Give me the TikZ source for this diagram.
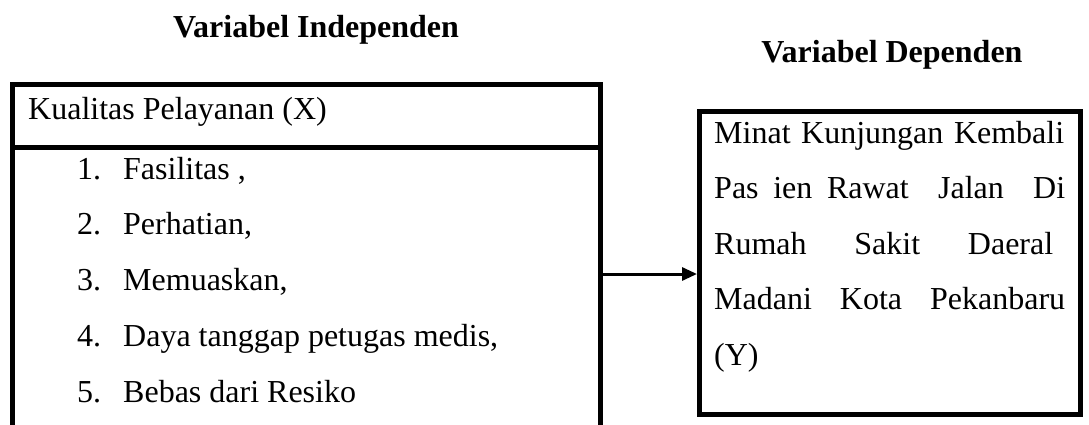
\documentclass[tikz,border=0pt]{standalone}
\usepackage{fontspec}
\setmainfont{Liberation Serif}
\usetikzlibrary{arrows.meta}
\tikzset{
  frame/.style = {line width = 5pt},
  title/.style = {font = \fontsize{32}{38}\selectfont\bfseries, anchor = base, inner sep = 0},
  body/.style = {font = \fontsize{32}{38}\selectfont, anchor = base west, inner sep = 0},
  arr/.style = {line width = 3pt, -{Triangle[length = 15pt, width = 13pt]}}
}
\begin{document}
\begin{tikzpicture}[x = 1pt, y = -1pt]
\useasboundingbox (0,0) rectangle (1089,425);
\pgfmathsetmacro\itemgap{55.8};
\pgfmathsetmacro\linegap{55.5};
\node[title] (tx) at (316,38) {Variabel Independen};
\node[title] (ty) at (892,63) {Variabel Dependen};
\draw[frame] (12,425) -- (12,85) -- (600,85) -- (600,425);
\draw[frame] (12,147.5) -- (600,147.5);
\coordinate (xe) at (600,274);
\node[body] (xhead) at (28,120) {Kualitas Pelayanan (X)};
\foreach \i/\t in {1/{Fasilitas ,}, 2/{Perhatian,}, 3/{Memuaskan,}, 4/{Daya tanggap petugas medis,}, 5/{Bebas dari Resiko}} {
  \node[body] (num\i) at (77,179+\itemgap*\i-\itemgap) {\i.};
  \node[body] (item\i) at (123,179+\itemgap*\i-\itemgap) {\t};
}
\node[frame, draw, minimum width = 381, minimum height = 302.5, inner sep = 0] (dep) at (890,263.25) {};
\node[body, text width = 350] (y1) at (714,143) {Minat\hfill Kunjungan\hfill Kembali};
\node[body, text width = 351] (y2) at (714,143+\linegap) {Pas\hfill ien\hfill Rawat\hfill\hfill Jalan\hfill\hfill Di};
\node[body, text width = 339] (y3) at (714,143+\linegap*2) {Rumah\hfill Sakit\hfill Daeral};
\node[body, text width = 351] (y4) at (714,143+\linegap*3) {Madani\hfill Kota\hfill Pekanbaru};
\node[body] (y5) at (714,143+\linegap*4) {(Y)};
\draw[arr] (xe) -- (xe -| dep.west);
\end{tikzpicture}
\end{document}
